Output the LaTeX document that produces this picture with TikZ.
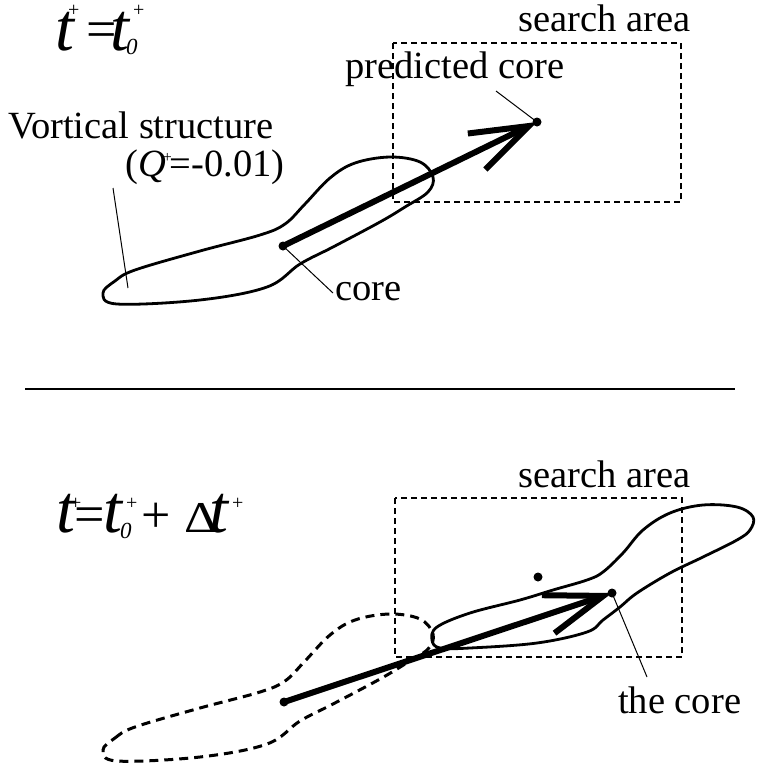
\documentclass[tikz,border=0pt]{standalone}
\usepackage{fontspec}
\usepackage{graphicx}
\setmainfont{Liberation Serif}
\usetikzlibrary{arrows.meta}
\begin{document}
\begin{tikzpicture}[x=1pt,y=-1pt,
  lbl/.style={font=\fontsize{38.5}{44}\selectfont, inner sep=0pt, anchor=base west},
  ft/.style={font=\fontsize{68}{68}\selectfont\itshape, inner sep=0pt, anchor=base west, text height=38pt, text depth=0pt},
  fe/.style={font=\fontsize{54}{54}\selectfont, inner sep=0pt, anchor=base west},
  fs/.style={font=\fontsize{20}{20}\selectfont, inner sep=0pt, anchor=base west, text height=10pt, text depth=0pt},
  fz/.style={font=\fontsize{23}{23}\selectfont\itshape, inner sep=0pt, anchor=base west},
  dot/.style={circle, fill=black, inner sep=0pt, minimum size=9pt},
  blob/.style={line width=2.8pt, line join=round},
  oldblob/.style={line width=3pt, dash pattern=on 9pt off 6pt},
  area/.style={line width=1.3pt, dash pattern=on 6pt off 4pt},
  leader/.style={line width=1pt},
  shaft/.style={line width=6pt, -{Straight Barb[length=58pt,width=40pt]}}]
\useasboundingbox (0,0) rectangle (756,766);

% ---------- top panel ----------
\node[ft] (f1t) at (55,50) {t};
\node[fs] (f1p) at (68,16) {+};
\node[fe] (f1e) at (86,47) {=};
\node[ft] (f1u) at (110,50) {t};
\node[fz] (f1z) at (126,54) {0};
\node[fs] (f1q) at (133,16) {+};

\node[lbl] (sa1) at (518,31) {search area};
\draw[area] (393,43) rectangle (681,202);
\node[lbl] (pc) at (345,78) {predicted core};
\node[lbl] (vs) at (8,138) {Vortical structure};
\node[lbl] (q) at (125,176) {(\textit{Q}\kern-3pt\raisebox{14pt}{\fontsize{16}{16}\selectfont +}\kern-2pt=-0.01)};
\node[lbl] (cl) at (335,300) {core};

\draw[blob] plot[smooth cycle, tension=0.6] coordinates {
  (103,293) (115,281) (135,270) (200,251) (260,235) (285,224) (305,204)
  (330,178) (355,163) (390,157) (420,162) (433,177) (428,192) (405,207)
  (380,222) (333,247) (300,264) (267,287) (200,300) (117,304)};

\node[dot] (c1) at (283,246) {};
\node[dot] (p1) at (537,122) {};
\coordinate (pcl) at (496,91);
\coordinate (vsl) at (113,188);
\coordinate (vse) at (128,288);
\coordinate (crl) at (333,293);
\draw[leader] (pcl) -- (p1.center);
\draw[leader] (vsl) -- (vse);
\draw[leader] (c1.center) -- (crl);
\draw[shaft] (c1.center) -- (p1.center);

% ---------- divider ----------
\coordinate (dl) at (25,389);
\coordinate (dr) at (735,389);
\draw[line width=1.5pt] (dl) -- (dr);

% ---------- bottom panel ----------
\node[ft] (f2t) at (56,532) {t};
\node[fs] (f2p) at (70,509) {+};
\node[fe] (f2e) at (74,532) {=};
\node[ft] (f2u) at (103,532) {t};
\node[fz] (f2z) at (120,538) {0};
\node[fs] (f2q) at (126,509) {+};
\node[fe, font=\fontsize{52}{52}\selectfont] (f2a) at (141,532) {+};
\node[fe, font=\fontsize{44}{44}\selectfont] (f2d) at (184,532) {\scalebox{1.2}[1]{Δ}};
\node[ft] (f2v) at (209,532) {t};
\node[fs] (f2r) at (232,509) {+};

\node[lbl] (sa2) at (518,487) {search area};
\draw[area] (395,498) rectangle (682,657);

\draw[oldblob] plot[smooth cycle, tension=0.6] coordinates {
  (103,750) (115,738) (135,727) (200,708) (260,692) (285,681) (305,661)
  (330,635) (355,620) (390,614) (420,619) (433,634) (428,649) (405,664)
  (380,679) (333,704) (300,721) (267,744) (200,757) (117,761)};

\draw[blob] plot[smooth cycle, tension=0.6] coordinates {
  (432,640) (437,627) (470,613) (520,600) (553,590) (587,580) (603,572)
  (623,553) (643,530) (670,513) (703,505) (737,507) (753,517) (750,530)
  (737,540) (703,557) (670,573) (637,593) (620,607) (603,620) (587,632)
  (537,643) (470,648) (440,648)};

\node[dot] (c2) at (284,702) {};
\node[dot] (p2) at (612,593) {};
\node[dot] (pp) at (538,577) {};
\node[lbl] (tc) at (618,713) {the core};
\coordinate (tcl) at (647,677);
\draw[leader] (p2.center) -- (tcl);
\draw[shaft] (c2.center) -- (p2.center);
\end{tikzpicture}
\end{document}
